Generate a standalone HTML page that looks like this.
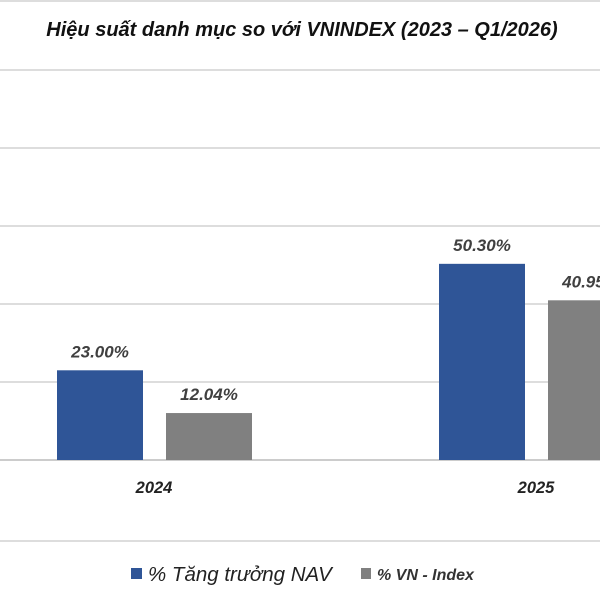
<!DOCTYPE html>
<html><head><meta charset="utf-8"><style>
body{margin:0;background:#fff}
svg{display:block;font-family:"Liberation Sans",sans-serif}
</style></head><body>
<svg id="c" width="600" height="600">
<line x1="0" y1="1" x2="600" y2="1" stroke="#ddd" stroke-width="2"/>
<text x="302" y="36" text-anchor="middle" font-size="20" font-weight="bold" font-style="italic" fill="#111">Hiệu suất danh mục so với VNINDEX (2023 – Q1/2026)</text>
<g id="grid"></g>
<g id="bars"></g>
<line x1="0" y1="541" x2="600" y2="541" stroke="#ddd" stroke-width="2"/>
<g>
<rect x="131" y="568" width="11" height="11" fill="#2F5597"/>
<text x="148" y="581" font-size="20.5" font-style="italic" fill="#222">% Tăng trưởng NAV</text>
<rect x="361" y="568" width="10" height="11" fill="#808080"/>
<text x="377" y="580" font-size="16" font-weight="bold" font-style="italic" fill="#333">% VN - Index</text>
</g>
</svg>
<script>
const categories=["2024","2025"];
const navValues=[23.00,50.30];
const vnValues=[12.04,40.95];
const navLabels=["23.00%","50.30%"];
const vnLabels=["12.04%","40.95%"];
const gridTicks=[0,20,40,60,80,100];
const NS="http://www.w3.org/2000/svg";
const y=v=>460-v*3.9;
const gx=i=>57+i*382;
function mk(t,a,p){const e=document.createElementNS(NS,t);for(const k in a)e.setAttribute(k,a[k]);p.appendChild(e);return e;}
const grid=document.getElementById('grid'),bars=document.getElementById('bars');
gridTicks.forEach(v=>{const l=mk('line',{x1:0,x2:600,y1:y(v),y2:y(v),stroke:v===0?'#ccc':'#ddd','stroke-width':2},grid);

});
categories.forEach((c,i)=>{
const x=gx(i);
const b1=mk('rect',{x:x,y:y(navValues[i]),width:86,height:460-y(navValues[i]),fill:'#2F5597'},bars);


const b2=mk('rect',{x:x+109,y:y(vnValues[i]),width:86,height:460-y(vnValues[i]),fill:'#808080'},bars);


const t1=mk('text',{x:x+43,y:y(navValues[i])-13,'text-anchor':'middle','font-size':17,'font-weight':'bold','font-style':'italic',fill:'#404040'},bars);
t1.textContent=navLabels[i];


const t2=mk('text',{x:x+152,y:y(vnValues[i])-13,'text-anchor':'middle','font-size':17,'font-weight':'bold','font-style':'italic',fill:'#404040'},bars);
t2.textContent=vnLabels[i];


const t3=mk('text',{x:x+97,y:493,'text-anchor':'middle','font-size':16.5,'font-weight':'bold','font-style':'italic',fill:'#222'},bars);
t3.textContent=c;


});
</script>
</body></html>
